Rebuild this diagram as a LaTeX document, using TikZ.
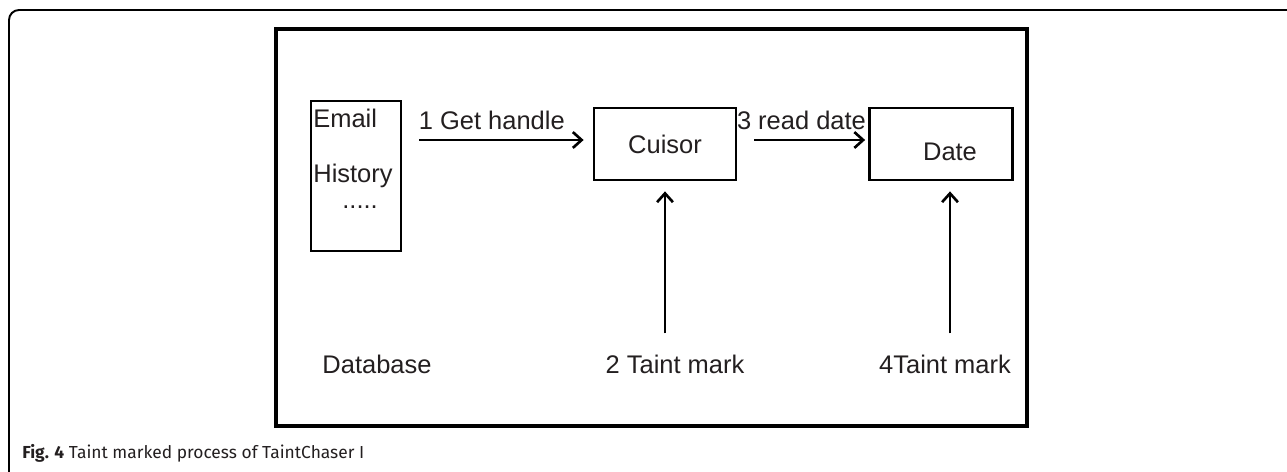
\documentclass[tikz,border=0pt]{standalone}
\usepackage{fontspec}
\setmainfont{Liberation Sans}
\newfontfamily\capfont{Fira Sans}
\usepackage{tikz}
\usetikzlibrary{arrows.meta, positioning, calc}
\definecolor{txtgray}{RGB}{35, 31, 32}

\begin{document}
\begin{tikzpicture}[
    x=0.02cm, y=-0.02cm,
    box/.style={draw, line width=1.6pt, minimum width=2.84cm,
                minimum height=1.44cm, inner sep=0pt},
    dbbox/.style={draw, line width=1.6pt, minimum width=1.8cm,
                minimum height=3cm, inner sep=0pt},
    txt/.style={font=\fontsize{14.5}{17}\selectfont, text=txtgray},
    capt/.style={font=\capfont\fontsize{9.9}{12}\selectfont,
                text=txtgray, inner sep=0pt},
    arr/.style={-{Straight Barb[length=5pt, width=9pt]}, line width=1.5pt},
  ]
    \useasboundingbox (0,0) rectangle (1287,472);

    % Outer figure frame and inner panel
    \draw[line width=1.1pt, rounded corners=0.2cm]
      (1287,10) -- (9,10) -- (9,482) -- (40,482);
    \draw[line width=1.9pt] (276,29) rectangle (1027,426);

    % Database with its entries
    \node[dbbox] (db) at (356,176) {};
    \node[txt, anchor=base west, inner sep=0pt] (email) at (313,128) {Email};
    \node[txt, anchor=base west, inner sep=0pt] (hist) at (313,183) {History};
    \node[txt, anchor=base west, inner sep=0pt] (dots) at (342,209) {.....};

    % Cursor and data boxes
    \node[box, txt] (cuisor) at (665,144) {Cuisor};
    \node[box, minimum width=2.86cm] (date) at (941,144) {};
    \node[txt] (datetxt) at (950,152) {Date};

    % Bottom labels
    \node[txt, anchor=base] (dbl) at (377,374) {Database};
    \node[txt, anchor=base] (tm2) at (675,374) {2 Taint mark};
    \node[txt, anchor=base] (tm4) at (945,374) {4Taint mark};

    \draw[arr, shorten <=0.34cm, shorten >=0.18cm]
      ($(db.east |- cuisor.west)+(0,-4)$) -- ($(cuisor.west)+(0,-4)$)
      node[txt, above=2pt, pos=0.47] {1 Get handle};
    \draw[arr, shorten <=0.34cm, shorten >=0.06cm]
      ($(cuisor.east)+(0,-4)$) -- ($(date.west)+(0,-4)$)
      node[txt, above=2pt, pos=0.49] {3 read date};
    \draw[arr, shorten <=0.32cm, shorten >=0.2cm]
      (tm2.north -| cuisor.south) -- (cuisor.south);
    \draw[arr, shorten <=0.32cm, shorten >=0.2cm]
      (tm4.north -| datetxt) -- (datetxt |- date.south);

    % Caption
    \node[capt, anchor=base west] (cap) at (22,459)
      {\textbf{Fig. 4} Taint marked process of TaintChaser I};
  \end{tikzpicture}
\end{document}
